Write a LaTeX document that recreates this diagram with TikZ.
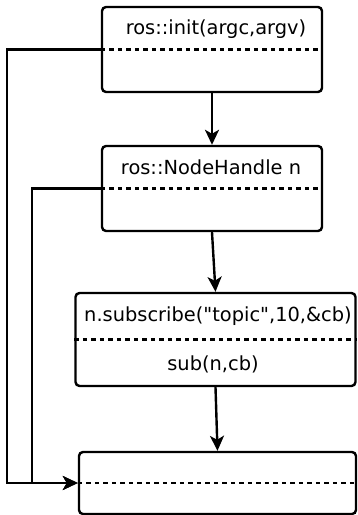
\documentclass[tikz,border=0pt]{standalone}
\usepackage{fontspec}
\setmainfont{DejaVu Sans}
\usetikzlibrary{arrows.meta}

\tikzset{
  call/.style={draw,rounded corners=4pt,line width=2.4pt,inner sep=0pt},
  txt/.style={inner sep=0pt,font=\fontsize{19.4}{22}\selectfont},
  sep/.style={line width=2.2pt,dash pattern=on 4.5pt off 4pt},
  flow/.style={line width=2.4pt,-{Stealth[length=15pt,width=14pt,inset=4pt]}}
}

\begin{document}
\begin{tikzpicture}[x=1pt,y=-1pt]
        \useasboundingbox (0,0) rectangle (357,515);

        %boxes
        \node[call,minimum width=220pt,minimum height=85pt] (init) at (212,49.5) {};
        \node[call,minimum width=220pt,minimum height=85pt] (handle) at (212,188.5) {};
        \node[call,minimum width=280pt,minimum height=93pt] (sub) at (215.5,339.5) {};
        \node[call,minimum width=277pt,minimum height=62pt] (spin) at (217.5,483) {};

        %dashed splits
        \draw[sep] (init.west) -- (init.east);
        \draw[sep] (handle.west) -- (handle.east);
        \draw[sep] (sub.west) -- (sub.east);
        \draw[sep] (spin.west) -- (spin.east);

        %texts
        \node[txt] (initname) at (216,29) {ros::init(argc,argv)};
        \node[txt] (handlename) at (211,167) {ros::NodeHandle n};
        \node[txt] (subname) at (218,316) {n.subscribe(\textquotedbl topic\textquotedbl,10,\&cb)};
        \node[txt] (subobj) at (213,364) {sub(n,cb)};

        %flow down
        \draw[flow] (init.south) -- (handle.north);
        \draw[flow] (handle.south) -- (sub.north);
        \draw[flow] (sub.south) -- (spin.north);

        %left side
        \draw[flow] (init.west) -- ++(-94,0) |- (spin.west);
        \draw[flow] (handle.west) -- ++(-69,0) |- (spin.west);
    \end{tikzpicture}
\end{document}
